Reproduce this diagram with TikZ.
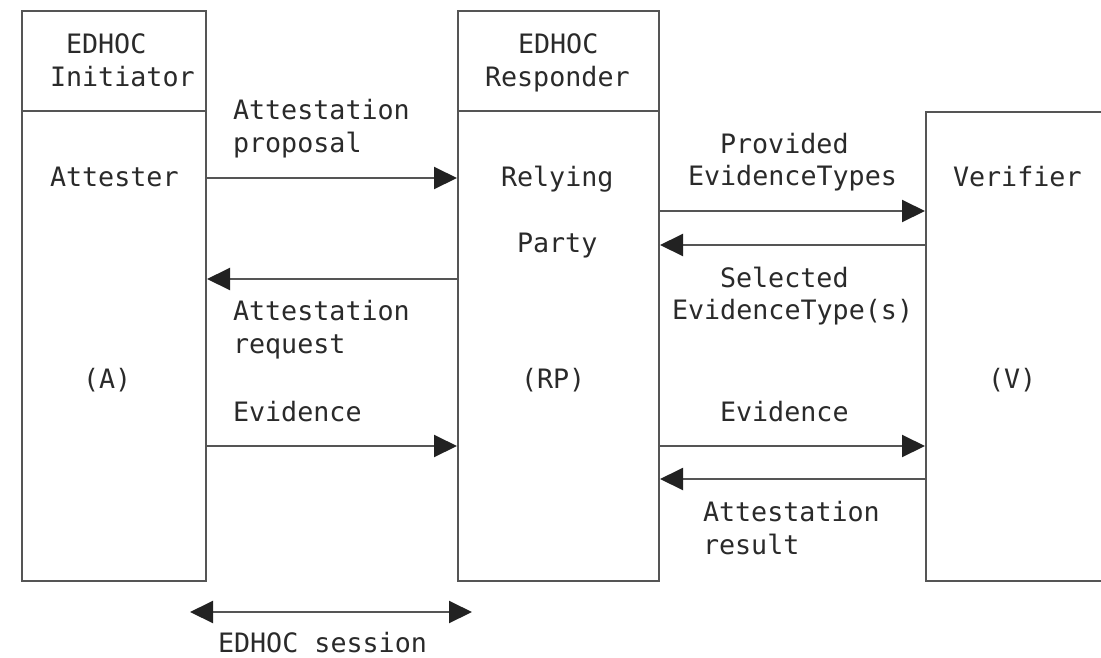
\documentclass[tikz,border=0pt]{standalone}
\usepackage{fontspec}
\setmainfont{DejaVu Sans Mono}
\usetikzlibrary{arrows.meta}
\definecolor{linec}{HTML}{555555}
\definecolor{textc}{HTML}{2A2A2A}
\definecolor{tipc}{HTML}{222222}
\tikzset{
  box/.style={draw=linec, line width=2pt, rectangle, inner sep=0pt, anchor=north west},
  divider/.style={draw=linec, line width=2pt},
  lbl/.style={anchor=base west, inner sep=0pt, outer sep=0pt, text=textc,
    font=\fontsize{26.7}{33}\selectfont},
  arr/.style={draw=linec, line width=2pt, -{Triangle[length=23pt,width=22pt,color=tipc]}},
  darr/.style={draw=linec, line width=2pt, {Triangle[length=23pt,width=22pt,color=tipc]}-{Triangle[length=23pt,width=22pt,color=tipc]}},
}
\begin{document}
\begin{tikzpicture}[x=1pt,y=-1pt]
\useasboundingbox[fill=white] (0,0) rectangle (1101,657);
% boxes
\node[box, minimum width=184pt, minimum height=570pt] (A) at (21,10) {};
\node[box, minimum width=201pt, minimum height=570pt] (RP) at (457,10) {};
\node[box, minimum width=260pt, minimum height=469pt] (V) at (925,111) {};
\draw[divider] (A.west |- 0,111) -- (A.east |- 0,111);
\draw[divider] (RP.west |- 0,111) -- (RP.east |- 0,111);
% box texts
\node[lbl] (a1) at (66,53) {EDHOC};
\node[lbl] (a2) at (50,86) {Initiator};
\node[lbl] (a3) at (50,186) {Attester};
\node[lbl] (a4) at (83,388) {(A)};
\node[lbl] (r1) at (518,53) {EDHOC};
\node[lbl] (r2) at (485,86) {Responder};
\node[lbl] (r3) at (501,186) {Relying};
\node[lbl] (r4) at (517,252) {Party};
\node[lbl] (r5) at (521,388) {(RP)};
\node[lbl] (v1) at (953,186) {Verifier};
\node[lbl] (v2) at (988,388) {(V)};
% arrows A <-> RP
\draw[arr] (A.east |- 0,178) -- (RP.west |- 0,178);
\draw[arr] (RP.west |- 0,279) -- (A.east |- 0,279);
\draw[arr] (A.east |- 0,446) -- (RP.west |- 0,446);
\node[lbl] (l1) at (233,119) {Attestation};
\node[lbl] (l2) at (233,152) {proposal};
\node[lbl] (l3) at (233,320) {Attestation};
\node[lbl] (l4) at (233,353) {request};
\node[lbl] (l5) at (233,421) {Evidence};
% arrows RP <-> V
\draw[arr] (RP.east |- 0,211) -- (V.west |- 0,211);
\draw[arr] (V.west |- 0,245) -- (RP.east |- 0,245);
\draw[arr] (RP.east |- 0,446) -- (V.west |- 0,446);
\draw[arr] (V.west |- 0,479) -- (RP.east |- 0,479);
\node[lbl] (m1) at (720,153) {Provided};
\node[lbl] (m2) at (688,185) {EvidenceTypes};
\node[lbl] (m3) at (720,287) {Selected};
\node[lbl] (m4) at (672,319) {EvidenceType(s)};
\node[lbl] (m5) at (720,421) {Evidence};
\node[lbl] (m6) at (703,521) {Attestation};
\node[lbl] (m7) at (703,554) {result};
% EDHOC session
\coordinate (s1) at (190,612);
\coordinate (s2) at (472,612);
\draw[darr] (s1) -- (s2);
\node[lbl] (s) at (218,652) {EDHOC session};
\end{tikzpicture}
\end{document}
